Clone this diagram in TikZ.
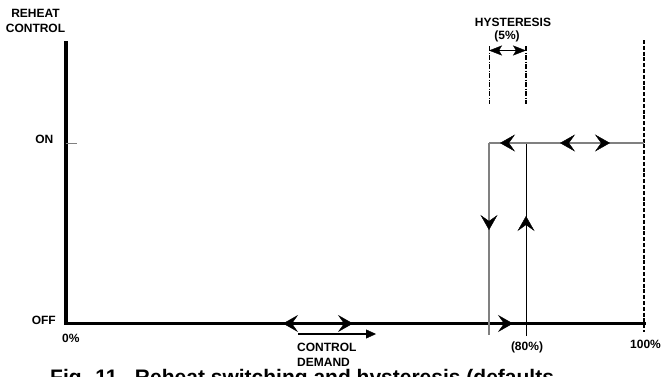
\documentclass[tikz,border=0pt]{standalone}
\usepackage{fontspec}
\setmainfont{Liberation Sans}
\usetikzlibrary{arrows.meta,decorations.markings}
\tikzset{
  chev/.tip={Stealth[length=15pt,width=17pt,inset=6pt,line width=0.4pt,color=black]},
  dimtip/.tip={Stealth[length=13pt,width=10pt,inset=3pt,line width=0.4pt]},
  demtip/.tip={Stealth[length=10pt,width=9pt,inset=0pt,line width=0.4pt]},
}
\begin{document}
\begin{tikzpicture}[x=1pt,y=-1pt,
  lbl/.style={font=\bfseries\fontsize{12}{14}\selectfont, inner sep=0pt, anchor=base},
  axisline/.style={line width=3.6pt, line cap=rect},
  grayline/.style={draw=black!50, line width=1.3pt},
  blackline/.style={draw=black, line width=0.9pt},
  dimline/.style={line width=1pt, dash pattern=on 5pt off 1.5pt on 1pt off 1.5pt},
  endline/.style={line width=2pt, dash pattern=on 4pt off 1.8pt},
  chevmarks/.style={postaction=decorate, decoration={markings, #1}},
]
\useasboundingbox (0,0) rectangle (661,376);

% coordinates
\coordinate (ytop) at (66,43);
\coordinate (orig) at (66,323.5);
\coordinate (xend) at (644,323.5);
\coordinate (onL) at (66,143);
\coordinate (onR) at (77,143);
\coordinate (lowTop) at (489,143);
\coordinate (lowBot) at (489,335);
\coordinate (highTop) at (526,143);
\coordinate (highBot) at (526,336);
\coordinate (topEnd) at (644,143);
\coordinate (endTop) at (644,40);
\coordinate (endBot) at (644,332);
\coordinate (hLt) at (489,46);
\coordinate (hLb) at (489,104);
\coordinate (hRt) at (526,46);
\coordinate (hRb) at (526,104);
\coordinate (hA) at (489,50.5);
\coordinate (hB) at (526,50.5);
\coordinate (dA) at (298,334);
\coordinate (dB) at (376,334);

% axes
\draw[axisline] (ytop) -- (orig);
\draw[axisline, chevmarks={
    mark=at position 217pt with {\arrowreversed{chev}},
    mark=at position 287pt with {\arrow{chev}},
    mark=at position 447pt with {\arrow{chev}}}] (orig) -- (xend);
\draw[grayline, line width=1pt] (onL) -- (onR);

% end of range
\draw[endline] (endTop) -- (endBot);

% hysteresis loop
\draw[grayline, chevmarks={mark=at position 87pt with {\arrow{chev}}}] (lowTop) -- (lowBot);
\draw[blackline, chevmarks={mark=at position 120pt with {\arrow{chev}}}] (highBot) -- (highTop);
\draw[grayline, chevmarks={
    mark=at position 11pt with {\arrowreversed{chev}},
    mark=at position 71pt with {\arrowreversed{chev}},
    mark=at position 121pt with {\arrow{chev}}}] (lowTop) -- (topEnd);

% hysteresis dimension
\draw[dimline] (hLt) -- (hLb);
\draw[dimline, line width=1.6pt] (hRt) -- (hRb);
\draw[line width=1.3pt, {dimtip}-{dimtip}] (hA) -- (hB);

% control demand arrow
\draw[line width=1.2pt, -{demtip}] (dA) -- (dB);

% labels
\node[lbl] (reheat) at (35.5,17) {REHEAT};
\node[lbl] (control) at (35.5,32) {CONTROL};
\node[lbl, anchor=base east] (on) at (53.5,143) {ON};
\node[lbl, anchor=base east] (off) at (56,324) {OFF};
\node[lbl, anchor=base west] (zero) at (62,342) {0\%};
\node[lbl, anchor=base west] (cd1) at (297,351) {CONTROL};
\node[lbl, anchor=base west] (cd2) at (297,366) {DEMAND};
\node[lbl] (eighty) at (527,350) {(80\%)};
\node[lbl, anchor=base west] (hundred) at (630,348) {100\%};
\node[lbl] (hyst) at (513,26) {HYSTERESIS};
\node[lbl] (five) at (507,39.5) {(5\%)};
\node[inner sep=0pt, anchor=base west, font=\bfseries\fontsize{21}{24}\selectfont] (caption) at (50,384)
  {Fig. 11.\ \ Reheat switching and hysteresis (defaults};
\end{tikzpicture}
\end{document}
